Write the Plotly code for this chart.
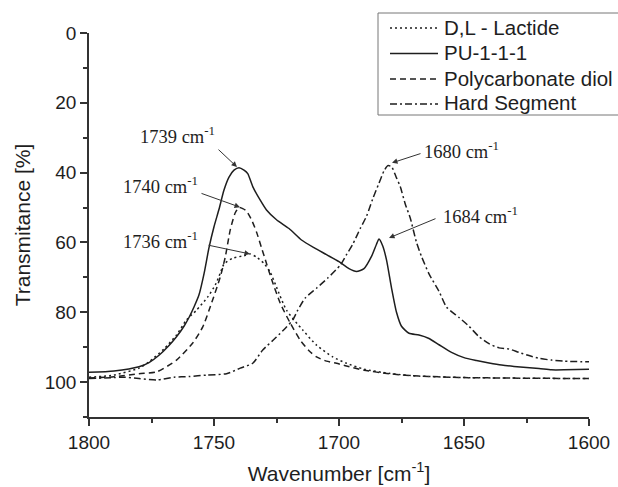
import plotly.graph_objects as go

# ---------------- data ----------------
pu_x = [1800, 1790, 1780, 1776, 1772, 1768, 1765, 1762, 1760, 1758, 1756, 1754, 1752, 1750,
        1748, 1746, 1744, 1742, 1740, 1738, 1736.5, 1734.5, 1731.5, 1729, 1725, 1720, 1715,
        1710, 1705, 1700, 1696, 1693, 1690, 1687, 1685, 1684, 1682.5, 1681, 1679, 1677, 1675,
        1672, 1668, 1664, 1660, 1655, 1650, 1645, 1640, 1635, 1630, 1620, 1615, 1610, 1600]
pu_y = [97.2, 96.8, 95.6, 94.4, 92.3, 89.5, 87.0, 84.0, 81.5, 78.5, 75.0, 69.0, 61.5, 55.5,
        50.5, 45.0, 41.3, 39.3, 38.6, 39.3, 40.3, 44.0, 47.9, 50.7, 53.5, 56.0, 59.3,
        61.5, 63.5, 65.5, 67.5, 68.3, 67.5, 64.0, 60.5, 59.0, 61.0, 65.0, 73.0, 80.0, 84.0,
        86.0, 86.5, 87.5, 89.3, 91.5, 93.0, 93.8, 94.5, 95.1, 95.5, 96.1, 96.5, 96.5, 96.3]

lac_x = [1800, 1790, 1780, 1776, 1770, 1765, 1761, 1757, 1752.5, 1749.5, 1747.5, 1746,
         1742.5, 1738, 1735.5, 1733, 1730, 1727.5, 1725, 1721, 1714.5, 1709, 1702.5, 1697,
         1690, 1680, 1670, 1650, 1600]
lac_y = [98.6, 98.0, 96.0, 94.2, 90.5, 86.5, 82.2, 79.4, 75.6, 72.2, 68.8, 66.2,
         64.5, 63.8, 63.3, 64.2, 66.0, 68.5, 72.8, 79.4, 85.1, 89.4, 92.8, 94.6,
         96.3, 97.5, 98.2, 98.7, 99.0]

pc_x = [1800, 1790, 1780, 1773, 1765, 1758.5, 1754.5, 1751, 1747.5, 1745.5, 1743.5, 1741.5,
        1740, 1738.5, 1737, 1735, 1733, 1731, 1729, 1727, 1723.5, 1719.5, 1715.5, 1712, 1709,
        1705, 1701, 1697, 1690, 1680, 1670, 1650, 1600]
pc_y = [98.8, 98.5, 97.6, 97.1, 93.7, 88.8, 84.2, 77.4, 69.9, 64.2, 56.4, 51.5,
        50.0, 50.3, 51.0, 53.5, 57.0, 61.5, 66.0, 70.5, 77.4, 83.1, 88.0, 91.0, 92.8,
        94.0, 94.6, 95.4, 96.6, 97.6, 98.2, 98.7, 99.0]

hs_x = [1800, 1790, 1786, 1780, 1773, 1766, 1760, 1753, 1745, 1739.5, 1734.5, 1730.5, 1725,
        1721, 1718.5, 1716.5, 1713.5, 1709, 1704.5, 1699.5, 1697, 1694.5, 1691.5, 1689,
        1686.5, 1684, 1682, 1680.5, 1679, 1677, 1675.5, 1673.5, 1671.5, 1669, 1667, 1664,
        1660, 1657, 1652, 1648, 1644, 1640, 1636, 1632, 1628, 1624, 1620, 1615, 1610, 1600]
hs_y = [99.0, 98.7, 98.6, 99.0, 99.4, 98.6, 98.4, 98.0, 97.6, 96.0, 94.6, 90.8, 87.1,
        84.2, 82.2, 79.4, 75.9, 73.1, 70.2, 66.5, 63.5, 60.5, 56.0, 52.5,
        47.5, 43.0, 39.5, 38.0, 38.3, 41.5, 44.0, 49.0, 53.0, 60.0, 64.0, 69.0,
        74.0, 78.5, 81.5, 84.0, 87.0, 89.0, 90.2, 90.5, 91.5, 92.4, 93.2, 93.7, 94.0, 94.2]

series_names = ["D,L - Lactide", "PU-1-1-1", "Polycarbonate diol", "Hard Segment"]
series_dash = ["2px,3px", "solid", "6px,4px", "7px,3px,2px,3px"]

x_ticks = [1800, 1750, 1700, 1650, 1600]
y_ticks = [0, 20, 40, 60, 80, 100]

# peak labels: text, text position, arrow tail, arrow head
peak_labels = ["1739 cm<sup>-1</sup>", "1740 cm<sup>-1</sup>", "1736 cm<sup>-1</sup>",
               "1680 cm<sup>-1</sup>", "1684 cm<sup>-1</sup>"]
label_x = [1764.6, 1771.6, 1771.6, 1651.2, 1643.6]
label_y = [29.2, 43.6, 59.3, 33.5, 52.1]
tail_x = [1748.8, 1755.6, 1752.8, 1666.8, 1660.8]
tail_y = [33.0, 45.8, 60.7, 34.4, 53.0]
head_x = [1740.8, 1739.6, 1735.6, 1678.8, 1680.0]
head_y = [38.4, 49.9, 63.3, 37.2, 58.7]

# ---------------- figure ----------------
INK = "#1e1e1e"
W, H = 618, 487
L, R, T, B = 89, 29, 33, 70
PW, PH = W - L - R, H - T - B


def px_x(p):
    return (p - L) / PW


def px_y(p):
    return (H - B - p) / PH


fig = go.Figure()
series = [(lac_x, lac_y), (pu_x, pu_y), (pc_x, pc_y), (hs_x, hs_y)]
for (xs, ys), name, dash in zip(series, series_names, series_dash):
    fig.add_trace(go.Scatter(
        x=xs, y=ys, mode="lines", name=name, showlegend=False,
        line=dict(color=INK, width=1.5, dash=dash, shape="spline", smoothing=0.6),
    ))

for t, lx, ly in zip(peak_labels, label_x, label_y):
    fig.add_annotation(x=lx, y=ly, text=t, showarrow=False,
                       font=dict(family="Liberation Serif", size=18.5, color=INK))
for tx, ty, hx, hy in zip(tail_x, tail_y, head_x, head_y):
    fig.add_annotation(x=hx, y=hy, ax=tx, ay=ty, axref="x", ayref="y", text="",
                       showarrow=True, arrowhead=2, arrowsize=1.1, arrowwidth=1,
                       arrowcolor="#333333", standoff=0)

# legend (frame runs past the right edge as in the reference)
fig.add_shape(type="rect", xref="paper", yref="paper",
              x0=px_x(378), x1=px_x(640), y0=px_y(115), y1=px_y(13),
              line=dict(color="#777777", width=1), fillcolor="rgba(0,0,0,0)", layer="above")
row_y = [27, 52.5, 78, 103]
for name, dash, ry in zip(series_names, series_dash, row_y):
    fig.add_shape(type="line", xref="paper", yref="paper",
                  x0=px_x(390), x1=px_x(438), y0=px_y(ry + 1), y1=px_y(ry + 1),
                  line=dict(color=INK, width=1.5, dash=dash))
    fig.add_annotation(xref="paper", yref="paper", x=px_x(442), y=px_y(ry),
                       xanchor="left", yanchor="middle", text=name, showarrow=False,
                       font=dict(family="Liberation Sans", size=20.5, color=INK))

fig.update_layout(
    width=W, height=H,
    margin=dict(l=L, r=R, t=T, b=B, autoexpand=False),
    paper_bgcolor="white", plot_bgcolor="white",
    font=dict(family="Liberation Sans", color=INK),
    showlegend=False,
)
fig.update_xaxes(
    range=[1800, 1600], tickvals=x_ticks, ticks="outside", ticklen=7, tickwidth=1.5,
    tickcolor="#333333", showline=True, linecolor="#333333", linewidth=1.5,
    showgrid=False, zeroline=False, tickfont=dict(size=19, color=INK),
    minor=dict(ticks="outside", ticklen=4, tickwidth=1.5, tickcolor="#333333", dtick=25, showgrid=False),
    title=dict(text="Wavenumber [cm<sup>-1</sup>]", font=dict(size=21, color=INK), standoff=15),
)
fig.update_yaxes(
    range=[110, 0], tickvals=y_ticks, ticks="outside", ticklen=7, tickwidth=1.5,
    tickcolor="#333333", showline=True, linecolor="#333333", linewidth=1.5,
    showgrid=False, zeroline=False, tickfont=dict(size=19, color=INK),
    minor=dict(ticks="outside", ticklen=4, tickwidth=1.5, tickcolor="#333333", dtick=10, showgrid=False),
    title=dict(text="Transmitance [%]", font=dict(size=21, color=INK), standoff=8),
)

fig.write_html("out.html")
